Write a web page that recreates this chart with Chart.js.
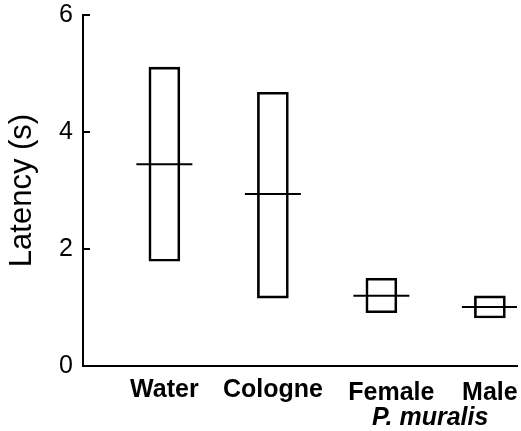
<!DOCTYPE html>
<html>
<head>
<meta charset="utf-8">
<script src="https://cdn.jsdelivr.net/npm/chart.js@4/dist/chart.umd.min.js"></script>
<style>
html,body{margin:0;padding:0;background:#fff;}
#wrap{width:521px;height:431px;}
</style>
</head>
<body>
<div id="wrap"><canvas id="c" width="521" height="431"></canvas></div>
<script>
// Data
const categories = ['Water', 'Cologne', 'Female', 'Male'];
const boxLow    = [1.79, 1.16, 0.91, 0.82];
const boxHigh   = [5.11, 4.68, 1.50, 1.20];
const medians   = [3.45, 2.94, 1.20, 1.01];
const yTicks    = [0, 2, 4, 6];
const groupLabel = 'P. muralis';
const yTitle = 'Latency (s)';

const boxData = categories.map((c, i) => ({x: i, y: [boxLow[i], boxHigh[i]]}));
const medData = categories.map((c, i) => ({x: i, y: medians[i]}));

const FONT = '"Liberation Sans", Arial, sans-serif';

const labelPlugin = {
  id: 'catLabels',
  afterDraw(chart, args, opts) {
    const ctx = chart.ctx;
    const xs = chart.scales.x;
    ctx.save();
    ctx.fillStyle = '#000';
    ctx.textAlign = 'center';
    ctx.textBaseline = 'alphabetic';
    ctx.font = 'bold 25px ' + FONT;
    categories.forEach((c, i) => {
      ctx.fillText(c, xs.getPixelForValue(i) + opts.offsets[i], opts.baselines[i]);
    });
    ctx.font = 'italic bold 25px ' + FONT;
    ctx.fillText(groupLabel, xs.getPixelForValue(opts.groupPos), opts.y2);
    ctx.restore();
  }
};

new Chart(document.getElementById('c'), {
  type: 'bar',
  data: {
    datasets: [
      {
        type: 'scatter',
        data: medData,
        pointStyle: 'line',
        pointRadius: 28,
        pointHoverRadius: 28,
        borderColor: '#000',
        borderWidth: 2,
        order: 0
      },
      {
        type: 'bar',
        data: boxData,
        backgroundColor: 'rgba(255,255,255,0)',
        borderColor: '#000',
        borderWidth: 2,
        borderSkipped: false,
        barThickness: 31,
        order: 1
      }
    ]
  },
  options: {
    responsive: false,
    animation: false,
    events: [],
    layout: {autoPadding: false, padding: {top: 15, right: 4, left: 0, bottom: 0}},
    plugins: {
      legend: {display: false},
      tooltip: {enabled: false},
      catLabels: {offsets: [0, 0, 10, 0], baselines: [397, 397, 400, 400], y2: 425, groupPos: 2.45}
    },
    scales: {
      x: {
        type: 'linear',
        min: -0.75,
        max: 3.25,
        offset: false,
        grid: {display: false, drawTicks: false},
        border: {display: true, color: '#000', width: 2},
        ticks: {display: false},
        afterFit(s) { s.height = 65; s.paddingLeft = 0; s.paddingRight = 0; }
      },
      y: {
        type: 'linear',
        min: 0,
        max: 6,
        afterBuildTicks(s) { s.ticks = yTicks.map(v => ({value: v})); },
        grid: {drawOnChartArea: false, drawTicks: true, tickLength: -7, color: '#000', lineWidth: 2},
        border: {display: true, color: '#000', width: 2},
        ticks: {
          color: '#000',
          padding: 17,
          font: {family: FONT, size: 25}
        },
        title: {
          display: true,
          text: yTitle,
          color: '#000',
          padding: {top: 4, bottom: 0},
          font: {family: FONT, size: 31}
        },
        afterFit(s) { s.width = 83; s.paddingTop = 0; s.paddingBottom = 0; }
      }
    }
  },
  plugins: [labelPlugin]
});
</script>
</body>
</html>
